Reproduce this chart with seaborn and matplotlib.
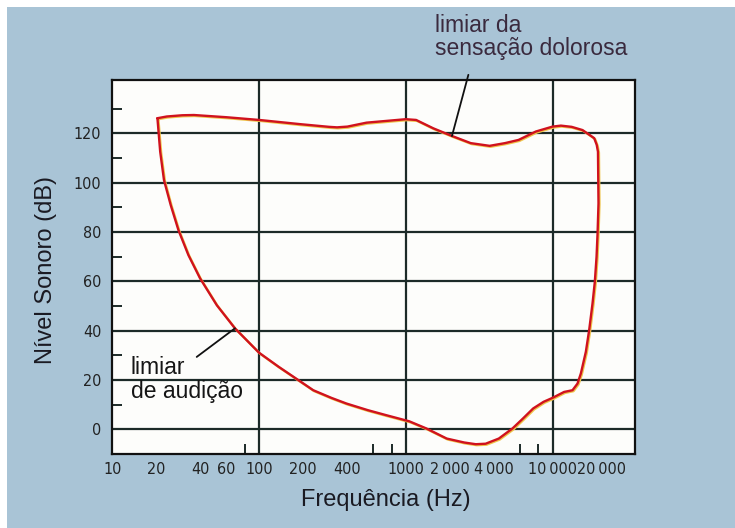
import matplotlib
matplotlib.use("Agg")
import matplotlib.pyplot as plt
import matplotlib.patheffects as pe
import matplotlib.ticker as mticker
import matplotlib.transforms as mtransforms
from matplotlib import font_manager
from matplotlib.patches import Rectangle
import pandas as pd
import seaborn as sns

# closed loop: pain threshold (top, left->right), then hearing threshold (bottom, right->left)
freq_hz = [
    20.3, 23.5, 30, 36, 60, 100, 190, 300, 340, 400, 540, 1000, 1175, 1540,
    2064, 2770, 3725, 4740, 5870, 7690, 10000, 11400, 13500, 16000, 18300, 19230,
    20000, 20400, 20570, 20270, 19950, 19420, 18730, 17770, 16870, 15600, 14800,
    13680, 11990, 10000, 8690, 7380, 6280, 5336, 4305, 3500, 3000, 2500, 1900,
    1380, 1055, 733, 552, 394, 311, 234, 178, 136, 100, 68.5, 51.5, 39.6, 33.0,
    28.2, 25.0, 22.5, 21.2, 20.3,
]
level_db = [
    126.1, 126.8, 127.3, 127.4, 126.5, 125.4, 123.7, 122.6, 122.4, 122.7, 124.3, 125.7, 125.4, 122.0,
    118.9, 116.0, 114.9, 116.0, 117.3, 120.7, 122.7, 123.1, 122.6, 121.3, 118.9, 118.0,
    115.3, 112.5, 91.6, 79.4, 69.9, 59.8, 51.0, 40.2, 31.4, 22.6, 18.5,
    15.8, 15.1, 12.7, 11.1, 8.4, 4.3, 0.3, -3.8, -5.9, -6.1, -5.4, -3.8,
    0.3, 3.2, 5.7, 7.7, 10.4, 12.7, 15.8, 20.6, 25.3, 31.0, 40.9, 50.3, 61.2, 70.6,
    80.8, 90.9, 101.0, 112.5, 126.1,
]

xtick_values = [10, 20, 40, 60, 100, 200, 400, 1000, 2000, 4000, 10000, 20000]
xtick_labels = ["10", "20", "40", "60", "100", "200", "400", "1000",
                "2\u2009000", "4\u2009000", "10\u2009000", "20\u2009000"]
xminor_values = [20, 40, 60, 80, 200, 400, 600, 800, 2000, 4000, 6000, 8000, 20000]
xgrid_values = [100, 1000, 10000]
ytick_values = [0, 20, 40, 60, 80, 100, 120]
yminor_values = [10, 30, 50, 70, 90, 110, 130]

# annotation anchors (points on the curve and line starts)
pain_point = (2064, 118.9)
pain_line_start = (2670, 143.7)
hear_point = (68.5, 40.9)
hear_line_start = (37.6, 29.3)

df = pd.DataFrame({"freq": freq_hz, "level": level_db})

sns.set_style("white")
plt.rcParams["font.family"] = ["Liberation Sans", "DejaVu Sans"]

# narrow face for the tick numbers if one is installed
installed = {(f.name, f.stretch) for f in font_manager.fontManager.ttflist}
if any(n == "Liberation Sans Narrow" for n, _ in installed):
    tick_font = {"family": ["Liberation Sans Narrow"], "size": 13}
elif ("DejaVu Sans", "condensed") in installed:
    tick_font = {"family": ["DejaVu Sans"], "stretch": "condensed", "size": 11.5}
else:
    tick_font = {"family": ["Liberation Sans"], "size": 11}

bg = "#a9c4d6"
fig = plt.figure(figsize=(7.35, 5.28), dpi=100)
fig.patch.set_facecolor("white")
fig.add_artist(Rectangle((7 / 735, 0), 1, 1 - 7 / 528, transform=fig.transFigure,
                         facecolor=bg, edgecolor="none", zorder=-10))

ax = fig.add_axes([0.1528, 0.140, 0.7112, 0.7085])
ax.set_facecolor("#fdfdfb")
ax.set_xscale("log")
ax.set_xlim(10, 36500)
ax.set_ylim(-10.1, 141.6)

grid_color = "#1c2a28"
for y in ytick_values:
    ax.axhline(y, color=grid_color, lw=1.6, zorder=1)
for x in xgrid_values:
    ax.axvline(x, color=grid_color, lw=1.6, zorder=1)

sns.lineplot(data=df, x="freq", y="level", sort=False, estimator=None, ax=ax,
             color="#d0121e", lw=1.7, zorder=3,
             path_effects=[pe.SimpleLineShadow(offset=(0.7, -0.7), shadow_color="#eec44a", alpha=1.0),
                           pe.Normal()])
ax.lines[-1].set_solid_joinstyle("round")

for s in ax.spines.values():
    s.set_color("#111111")
    s.set_linewidth(1.6)

ax.xaxis.set_major_locator(mticker.FixedLocator(xtick_values))
ax.xaxis.set_minor_locator(mticker.FixedLocator(xminor_values))
ax.set_xticklabels(xtick_labels, fontdict=tick_font, color="#222222")
ax.xaxis.set_minor_formatter(mticker.NullFormatter())
ax.yaxis.set_major_locator(mticker.FixedLocator(ytick_values))
ax.yaxis.set_minor_locator(mticker.FixedLocator(yminor_values))
ax.set_yticklabels([str(v) for v in ytick_values], fontdict=tick_font, color="#222222")

ax.tick_params(axis="x", which="major", length=0, pad=6)
ax.tick_params(axis="y", which="major", length=0, pad=8)
ax.tick_params(which="minor", direction="in", length=7, width=1.4, color="#1c2a28")
ax.tick_params(axis="x", which="minor", bottom=True)
ax.tick_params(axis="y", which="minor", left=True)

# the last label sits a little right of its tick, as in the print
last = ax.get_xticklabels()[-1]
last.set_transform(last.get_transform() + mtransforms.ScaledTranslation(5 / 100, 0, fig.dpi_scale_trans))

ax.set_xlabel("Frequência (Hz)", fontsize=17, color="#1a1a22")
ax.set_ylabel("Nível Sonoro (dB)", fontsize=17, color="#1a1a22")
ax.xaxis.set_label_coords(0.524, -0.093)
ax.yaxis.set_label_coords(-0.105, 0.493)

# annotations
ax.annotate("", xy=pain_point, xytext=pain_line_start, annotation_clip=False,
            arrowprops=dict(arrowstyle="-", color="#111111", lw=1.3, shrinkA=0, shrinkB=0))
ax.annotate("", xy=hear_point, xytext=hear_line_start, annotation_clip=False,
            arrowprops=dict(arrowstyle="-", color="#111111", lw=1.3, shrinkA=0, shrinkB=0))
fig.text(435 / 735, 1 - 14 / 528, "limiar da\nsensação dolorosa", fontsize=16.5,
         color="#3a2a3e", ha="left", va="top", linespacing=1.0)
ax.text(131 / 735, 1 - 356 / 528, "limiar\nde audição", fontsize=16.5, color="#151515",
        ha="left", va="top", linespacing=1.05, transform=fig.transFigure, zorder=4)

fig.savefig("out.png", dpi=100, facecolor=fig.get_facecolor())
